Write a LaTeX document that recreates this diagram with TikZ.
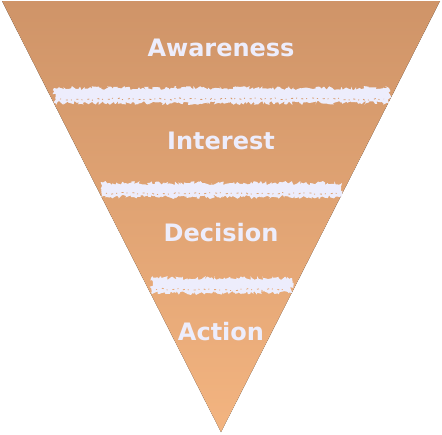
\documentclass[tikz,border=0pt]{standalone}
\usepackage{fontspec}
\setsansfont{DejaVu Sans}
\usetikzlibrary{decorations.pathmorphing}
\definecolor{funneltop}{HTML}{CF9468}
\definecolor{funnelbot}{HTML}{F3B480}
\definecolor{chalk}{HTML}{EDEDFC}

\begin{document}
\begin{tikzpicture}[x=1pt, y=-1pt,
  stagetext/.style={text=chalk, font=\sffamily\bfseries\fontsize{24}{28}\selectfont},
  chalkband/.style={fill=chalk, decorate,
    decoration={random steps, segment length=1.6pt, amplitude=2pt}},
  fleck/.style={draw=#1, line width=0.8pt, dash pattern=on 1pt off 5pt on 2pt off 3pt, decorate,
    decoration={random steps, segment length=2.5pt, amplitude=1.2pt}}]
\pgfmathsetseed{42}
\useasboundingbox (0,0) rectangle (442,434);

% funnel body
\fill[top color=funneltop, bottom color=funnelbot] (2,1) -- (440,1) -- (221,432) -- cycle;

% rough separators
\fill[chalkband] (54,88) rectangle (389,103);
\fill[chalkband] (101,183) rectangle (342,197);
\fill[chalkband] (151,278) rectangle (292,293);
\draw[fleck=funneltop!78!funnelbot] (60,99) -- (384,99);
\draw[fleck=funneltop!56!funnelbot] (106,193.5) -- (337,193.5);
\draw[fleck=funneltop!34!funnelbot] (156,289.5) -- (287,289.5);

% stage names
\node[stagetext] (aware) at (221,48) {Awareness};
\node[stagetext] (inter) at (221,141) {Interest};
\node[stagetext] (decis) at (221,233) {Decision};
\node[stagetext] (actio) at (221,332) {Action};
\end{tikzpicture}
\end{document}
